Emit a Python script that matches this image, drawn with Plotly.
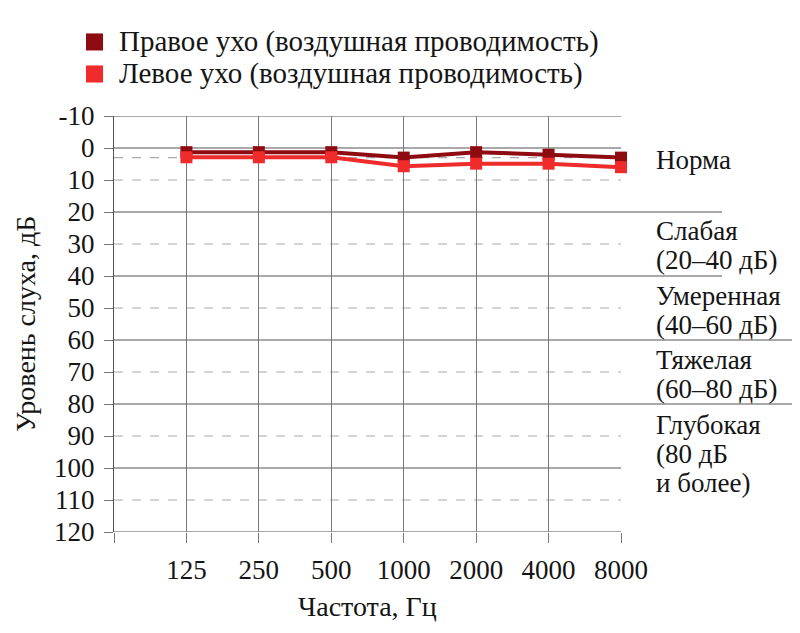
import plotly.graph_objects as go

# ---- data ----
freq_labels = ["125", "250", "500", "1000", "2000", "4000", "8000"]
right_ear = [1.3, 1.3, 1.3, 3.0, 1.3, 2.1, 3.0]
left_ear = [2.9, 2.9, 2.9, 5.7, 4.9, 4.9, 6.0]
series_names = ["Правое ухо (воздушная проводимость)", "Левое ухо (воздушная проводимость)"]
y_ticks = list(range(-10, 121, 10))
ref_level = 3  # dashed reference line near 0 dB
zones = [
    (3.8, ["Норма"]),
    (26.0, ["Слабая", "(20–40 дБ)"]),
    (46.4, ["Умеренная", "(40–60 дБ)"]),
    (66.2, ["Тяжелая", "(60–80 дБ)"]),
    (86.6, ["Глубокая", "(80 дБ", "и более)"]),
]
zone_bounds_short = [20, 40]
zone_bounds_long = [60, 80]

FONT = "Liberation Serif"
DARK = "#8e0b12"
RED = "#ef2b2b"
INK = "#151515"
LEG = 29
ZONE = 27
TITLE = 28
NUM = 27
x = list(range(len(freq_labels)))
colors = [DARK, RED]

fig = go.Figure()
for name, vals, col in zip(series_names, [right_ear, left_ear], colors):
    fig.add_trace(go.Scatter(
        x=x, y=vals, mode="lines+markers", name=name, showlegend=False,
        line=dict(color=col, width=4), cliponaxis=False,
        marker=dict(symbol="square", size=12, color=col),
    ))

shapes = []
for v in y_ticks:
    if v % 20 == 0 or v == -10:
        shapes.append(dict(type="line", xref="paper", yref="y", x0=0, x1=1, y0=v, y1=v,
                           line=dict(color="#555555", width=1.2), layer="below"))
    else:
        shapes.append(dict(type="line", xref="paper", yref="y", x0=0, x1=1, y0=v, y1=v,
                           line=dict(color="#aaaaaa", width=1.2, dash="dash"), layer="below"))
shapes.append(dict(type="line", xref="paper", yref="y", x0=0, x1=1, y0=ref_level, y1=ref_level,
                   line=dict(color="#aaaaaa", width=1.2, dash="dash"), layer="below"))
for v in zone_bounds_short:
    shapes.append(dict(type="line", xref="paper", yref="y", x0=1, x1=1.199, y0=v, y1=v,
                       line=dict(color="#555555", width=1.2)))
for v in zone_bounds_long:
    shapes.append(dict(type="line", xref="paper", yref="y", x0=1, x1=1.36, y0=v, y1=v,
                       line=dict(color="#555555", width=1.2)))

annotations = []
# legend drawn by hand (square swatch + text)
for i, (name, col) in enumerate(zip(series_names, colors)):
    yc = 1.178 - i * 0.077
    shapes.append(dict(type="rect", xref="paper", yref="paper",
                       x0=-0.0552, x1=-0.0216, y0=yc - 0.0205, y1=yc + 0.0205,
                       fillcolor=col, line=dict(width=0)))
    annotations.append(dict(
        text=name, xref="paper", yref="paper", x=0.008, y=yc,
        xanchor="left", yanchor="middle", showarrow=False, borderpad=0,
        font=dict(family=FONT, size=LEG, color=INK),
    ))
for y0, lines in zones:
    for i, t in enumerate(lines):
        annotations.append(dict(
            text=t, xref="paper", yref="y", x=1.068, y=y0 + i * 9.0,
            xanchor="left", yanchor="middle", showarrow=False, borderpad=0,
            font=dict(family=FONT, size=ZONE, color=INK),
        ))
annotations.append(dict(
    text="Уровень слуха, дБ", xref="paper", yref="paper", x=-0.1755, y=0.5,
    xanchor="center", yanchor="middle", textangle=-90, showarrow=False,
    font=dict(family=FONT, size=TITLE, color=INK),
))
annotations.append(dict(
    text="Частота, Гц", xref="paper", yref="paper", x=0.5, y=-0.18,
    xanchor="center", yanchor="middle", showarrow=False,
    font=dict(family=FONT, size=TITLE, color=INK),
))

# the page body adds an 8 px offset; size/margins compensate for it
fig.update_layout(
    width=792, height=625,
    margin=dict(l=106, r=179, t=108, b=101),
    paper_bgcolor="white", plot_bgcolor="white",
    font=dict(family=FONT, size=NUM, color=INK),
    shapes=shapes, annotations=annotations, showlegend=False,
    xaxis=dict(
        range=[-1, len(freq_labels) - 1], automargin=False,
        tickvals=[-1] + x, ticktext=[""] + freq_labels,
        showgrid=True, gridcolor="#777777", gridwidth=1.2,
        zeroline=False, showline=False,
        ticks="outside", ticklen=10, tickcolor="#777777", tickwidth=1.2,
        ticklabelstandoff=4,
        tickfont=dict(family=FONT, size=NUM, color=INK),
    ),
    yaxis=dict(
        range=[120, -10], automargin=False,
        tickvals=y_ticks, ticktext=[str(v) for v in y_ticks],
        showgrid=False, zeroline=False,
        showline=True, linecolor="#555555", linewidth=1.2,
        ticks="outside", ticklen=9, tickcolor="#777777", tickwidth=1.2,
        ticklabelstandoff=4,
        tickfont=dict(family=FONT, size=NUM, color=INK),
    ),
)

fig.write_html("out.html")
